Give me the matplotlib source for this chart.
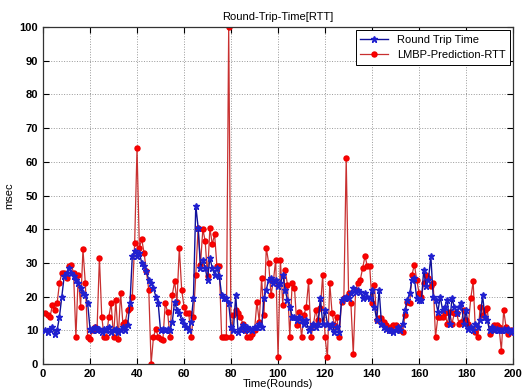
import numpy as np
import matplotlib
matplotlib.use('Agg')
import matplotlib.pyplot as plt

plt.rcParams['font.family'] = ['Liberation Sans', 'DejaVu Sans']

# Round trip time measured (blue, star markers)
rtt = [10, 9.5, 10.5, 11, 9, 10, 14, 20, 26, 27,
       28.5, 27, 26, 25, 24, 22.5, 21, 20.5, 18, 10.5,
       10, 11, 10, 10.5, 9.5, 10.5, 10, 11, 9.5, 10,
       10.5, 9.5, 10, 11, 10, 11.5, 18, 32, 33.5, 32,
       33, 30, 29, 27.5, 25, 24, 22.5, 20, 18, 10,
       10.5, 10, 10.5, 10, 12.5, 18.5, 16, 15, 13, 12,
       11, 10, 12.5, 19.5, 47, 40.5, 28.5, 31, 28.5, 25,
       31.5, 28.5, 26.5, 28.5, 26, 20.5, 19.5, 19.5, 18, 11,
       10, 20.5, 9.5, 10.5, 11.5, 10, 11, 10.5, 10, 11,
       11, 12, 11, 19.5, 22, 25, 25.5, 24, 25, 23,
       24, 26.5, 22, 19, 17, 14, 14, 13, 14, 13,
       12, 13, 10, 11, 12, 11, 12, 19.5, 12, 16,
       12, 11, 12, 9.5, 11, 9.5, 19, 19.5, 20, 19.5,
       21, 22.5, 21.5, 22, 21.5, 19.5, 21, 20, 19.5, 22,
       17, 13, 22, 12, 11, 10.5, 10, 10, 9.5, 10,
       11, 10, 12, 16, 19, 21, 25, 25.5, 19.5, 19,
       19, 28, 23, 25, 32, 20, 19, 15.5, 20, 16,
       17, 19, 12, 19.5, 17, 15, 17, 18, 12, 16,
       10.5, 11, 10, 12, 11, 13, 20.5, 14, 13, 10,
       11, 10, 10.5, 10, 10, 10.5, 10, 10.5, 9.5, 10]

# LMBP network prediction (red, dot markers)
pred = [15, 14.5, 14, 17.5, 16, 18, 24, 27, 27, 25.5,
        29, 29.5, 27, 8, 26.5, 17, 34, 24, 8, 7.5,
        10, 11, 10.5, 31.5, 14, 8, 8, 14, 18, 8,
        19, 7.5, 21, 12, 12.5, 16, 16.5, 20, 36, 64,
        34.5, 37, 33, 27.5, 22, 0, 8, 10.5, 8, 7.5,
        7, 18, 15.5, 8, 20.5, 24.5, 18.5, 34.5, 22, 17,
        15, 15, 8, 14, 26.5, 40.5, 29.5, 40, 36.5, 26,
        40.5, 35.5, 38.5, 29, 29, 8, 8, 8, 100, 8,
        14.5, 16, 15, 14, 12, 10, 8, 8, 9, 10,
        18.5, 12.5, 25.5, 14.5, 34.5, 30, 20.5, 24.5, 31, 2,
        31, 17.5, 28, 23.5, 8, 24, 22.5, 11.5, 15.5, 8,
        14.5, 17, 24.5, 8, 11.5, 16, 13, 16.5, 26.5, 8,
        2, 24, 15, 11.5, 14, 8, 18.5, 19.5, 61, 21,
        18, 3, 22, 24, 25, 28.5, 32, 29, 29, 18,
        23.5, 13, 13.5, 13.5, 12.5, 11.5, 10, 11, 11.5, 11.5,
        11, 10, 9.5, 14.5, 18.5, 18, 26.5, 29.5, 25, 21,
        20, 24, 26.5, 25.5, 23, 24, 8, 14, 14, 14,
        15, 12, 15.5, 12, 15, 15, 12, 12.5, 16, 13,
        12, 19.5, 24.5, 9.5, 8, 17, 14.5, 16, 16.5, 9,
        10, 11.5, 11.5, 11, 4, 16, 11, 9, 10, 9.5]

rounds = np.arange(1, len(rtt) + 1)

fig = plt.figure(figsize=(5.27, 3.90), dpi=100)
ax = fig.add_axes([0.0816, 0.0667, 0.892, 0.864])

ax.plot(rounds, rtt, color='#10109a', lw=1.0, marker='*', ms=5,
        mec='#2020d0', mfc='#2020d0', label='Round Trip Time', zorder=3)
ax.plot(rounds, pred, color='#c83030', lw=0.9, marker='o', ms=3.6,
        mec='#ee0000', mfc='#ff0000', label='LMBP-Prediction-RTT', zorder=2)

ax.set_xlim(0, 200)
ax.set_ylim(0, 100)
ax.set_xticks(np.arange(0, 201, 20))
ax.set_yticks(np.arange(0, 101, 10))
ax.grid(True, linestyle=':', color='#999999', lw=0.7)
ax.tick_params(direction='in', top=True, right=True, labelsize=8, length=4)
for lbl in ax.get_xticklabels() + ax.get_yticklabels():
    lbl.set_fontweight('bold')
for spine in ax.spines.values():
    spine.set_linewidth(0.9)
    spine.set_edgecolor('#333333')

ax.set_title('Round-Trip-Time[RTT]', fontsize=8, pad=5)
ax.set_xlabel('Time(Rounds)', fontsize=8, labelpad=0)
ax.set_ylabel('msec', fontsize=8, labelpad=4)

leg = ax.legend(loc='upper right', fontsize=8, fancybox=False,
                edgecolor='black', framealpha=1, handlelength=2.5,
                borderaxespad=0.3)
leg.get_frame().set_linewidth(0.7)

plt.savefig('out.png', dpi=100)
